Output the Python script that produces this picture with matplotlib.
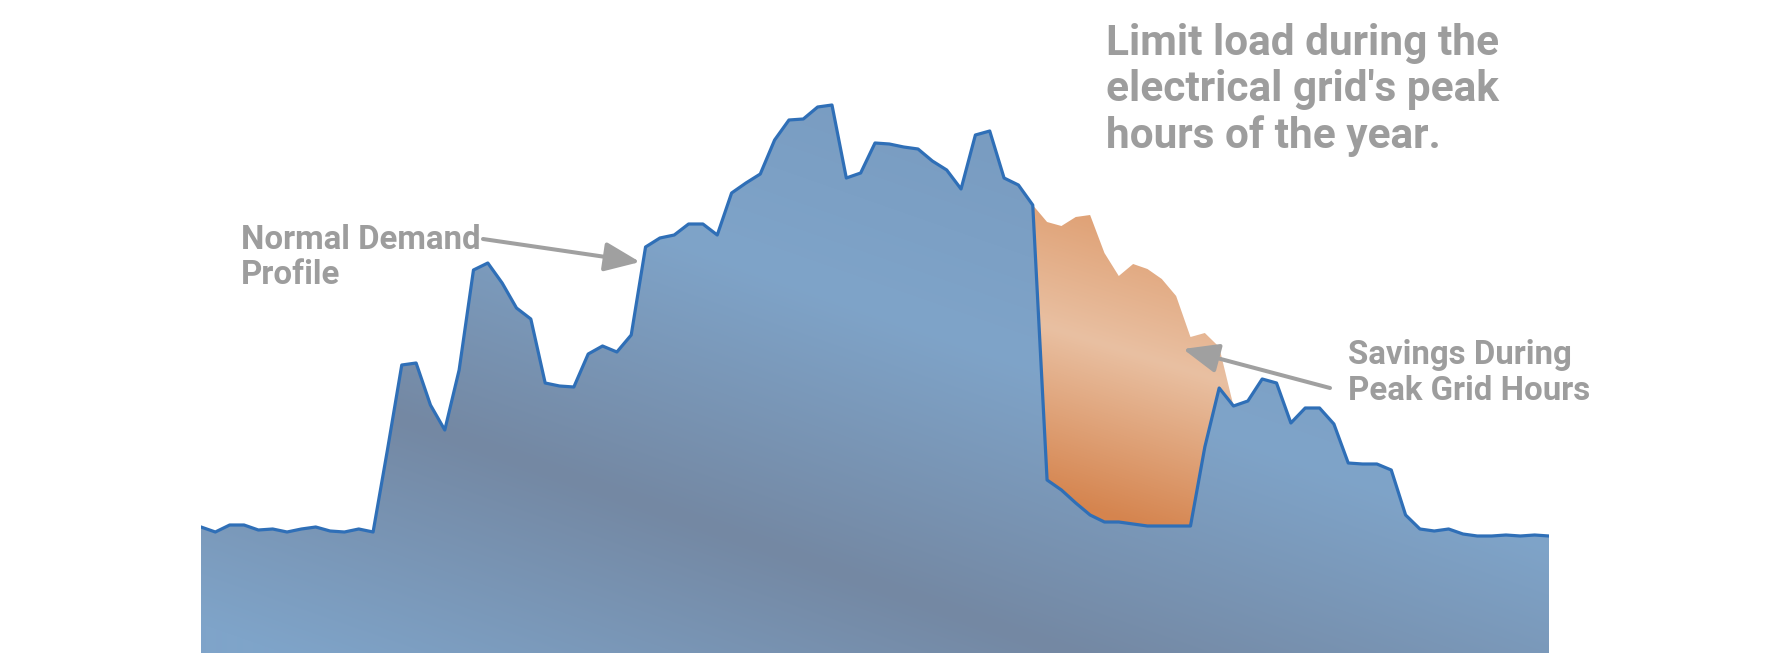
import numpy as np
import matplotlib
matplotlib.use('Agg')
import matplotlib.pyplot as plt

# demand profile (arbitrary units), one value per interval
normal_demand = [126, 121, 128, 128, 123, 124, 121, 124, 126, 122,
                 121, 124, 121, 203, 288, 290, 248, 223, 283, 383,
                 390, 370, 345, 334, 270, 267, 266, 299, 307, 301,
                 318, 406, 415, 418, 429, 429, 418, 460, 470, 479,
                 513, 533, 534, 546, 548, 475, 480, 510, 509, 506,
                 504, 492, 483, 464, 518, 522, 475, 468, 448, 431,
                 427, 436, 438, 400, 377, 389, 384, 374, 357, 316,
                 320, 306, 247, 252, 274, 270, 230, 245, 245, 229,
                 190, 189, 189, 183, 138, 124, 122, 124, 119, 117,
                 117, 118, 117, 118, 117]

# load kept during the grid peak window (indices 59..71)
peak_start = 59
curtailed_demand = [173, 163, 150, 138, 131, 131, 129, 127, 127, 127,
                    127, 206, 265]

title_lines = ["Limit load during the", "electrical grid's peak", "hours of the year."]
normal_label = ["Normal Demand", "Profile"]
savings_label = ["Savings During", "Peak Grid Hours"]

W, H = 1766, 653
x = np.arange(len(normal_demand))
normal = np.array(normal_demand, dtype=float)
managed = normal.copy()
managed[peak_start:peak_start + len(curtailed_demand)] = curtailed_demand

fig = plt.figure(figsize=(W / 100, H / 100), dpi=100)
left_px, right_px = 201, 1549
ax = fig.add_axes([left_px / W, 0, (right_px - left_px) / W, 1])
ax.set_xlim(0, len(x) - 1)
ax.set_ylim(0, H)
ax.axis('off')

# pixel grid for the gradient fills
X, Y = np.meshgrid(np.arange(left_px, right_px + 1), np.arange(H))

# blue: reflected diagonal gradient, darker band running down to the right
d = (Y - (400 + 0.35 * (X - 350))) / np.hypot(1, 0.35)
f = np.clip(np.abs(d) / 260, 0, 1)[..., None]
dark = np.array([116, 136, 163]) / 255
light = np.array([127, 164, 201]) / 255
top = np.array([121, 156, 193]) / 255
blue_img = dark + (light - dark) * f
upper = np.clip((-d - 260) / 200, 0, 1)[..., None]
blue_img = blue_img + (top - blue_img) * upper

# orange: light band in the middle, deeper at the bottom
d2 = Y - (323 + 0.31 * (X - 1037))
o_mid = np.array([233, 192, 162]) / 255
o_top = np.array([224, 163, 120]) / 255
o_bot = np.array([213, 132, 78]) / 255
fa = np.clip(-d2 / 120, 0, 1)[..., None]
fb = np.clip(d2 / 170, 0, 1)[..., None]
orange_img = o_mid + (o_top - o_mid) * fa
orange_img = orange_img + (o_bot - orange_img) * fb

ext = (0, len(x) - 1, 0, H)
blue_poly = ax.fill_between(x, 0, managed, facecolor='none', edgecolor='none')
im = ax.imshow(blue_img, extent=ext, origin='upper', aspect='auto', zorder=1)
im.set_clip_path(blue_poly.get_paths()[0], transform=ax.transData)

s = slice(peak_start - 1, peak_start + len(curtailed_demand) + 1)
orange_poly = ax.fill_between(x[s], managed[s], normal[s], facecolor='none', edgecolor='none')
im2 = ax.imshow(orange_img, extent=ext, origin='upper', aspect='auto', zorder=1)
im2.set_clip_path(orange_poly.get_paths()[0], transform=ax.transData)

ax.plot(x, managed, color='#2f6fb7', linewidth=2.3, zorder=3)

gray = '#9d9d9d'
font = 'Roboto'

for i, line in enumerate(title_lines):
    fig.text(1106 / W, 1 - (55 + 46.5 * i) / H, line, fontsize=30.5, fontweight='bold',
             family=font, color=gray, va='baseline', ha='left')
for i, line in enumerate(normal_label):
    fig.text(241 / W, 1 - (249 + 35.5 * i) / H, line, fontsize=23.8, fontweight='bold',
             family=font, color=gray, va='baseline', ha='left')
for i, line in enumerate(savings_label):
    fig.text(1348 / W, 1 - (364 + 36 * i) / H, line, fontsize=23.8, fontweight='bold',
             family=font, color=gray, va='baseline', ha='left')

arrow = dict(arrowstyle='-|>,head_length=1.45,head_width=0.6', color='#a0a0a0',
             lw=2.9, mutation_scale=15, shrinkA=0, shrinkB=0)
fig.add_artist(matplotlib.patches.FancyArrowPatch((483, H - 239), (640, H - 262),
                                                  transform=None, **arrow))
fig.add_artist(matplotlib.patches.FancyArrowPatch((1330, H - 388), (1183, H - 349),
                                                  transform=None, **arrow))

fig.savefig('out.png', dpi=100)
